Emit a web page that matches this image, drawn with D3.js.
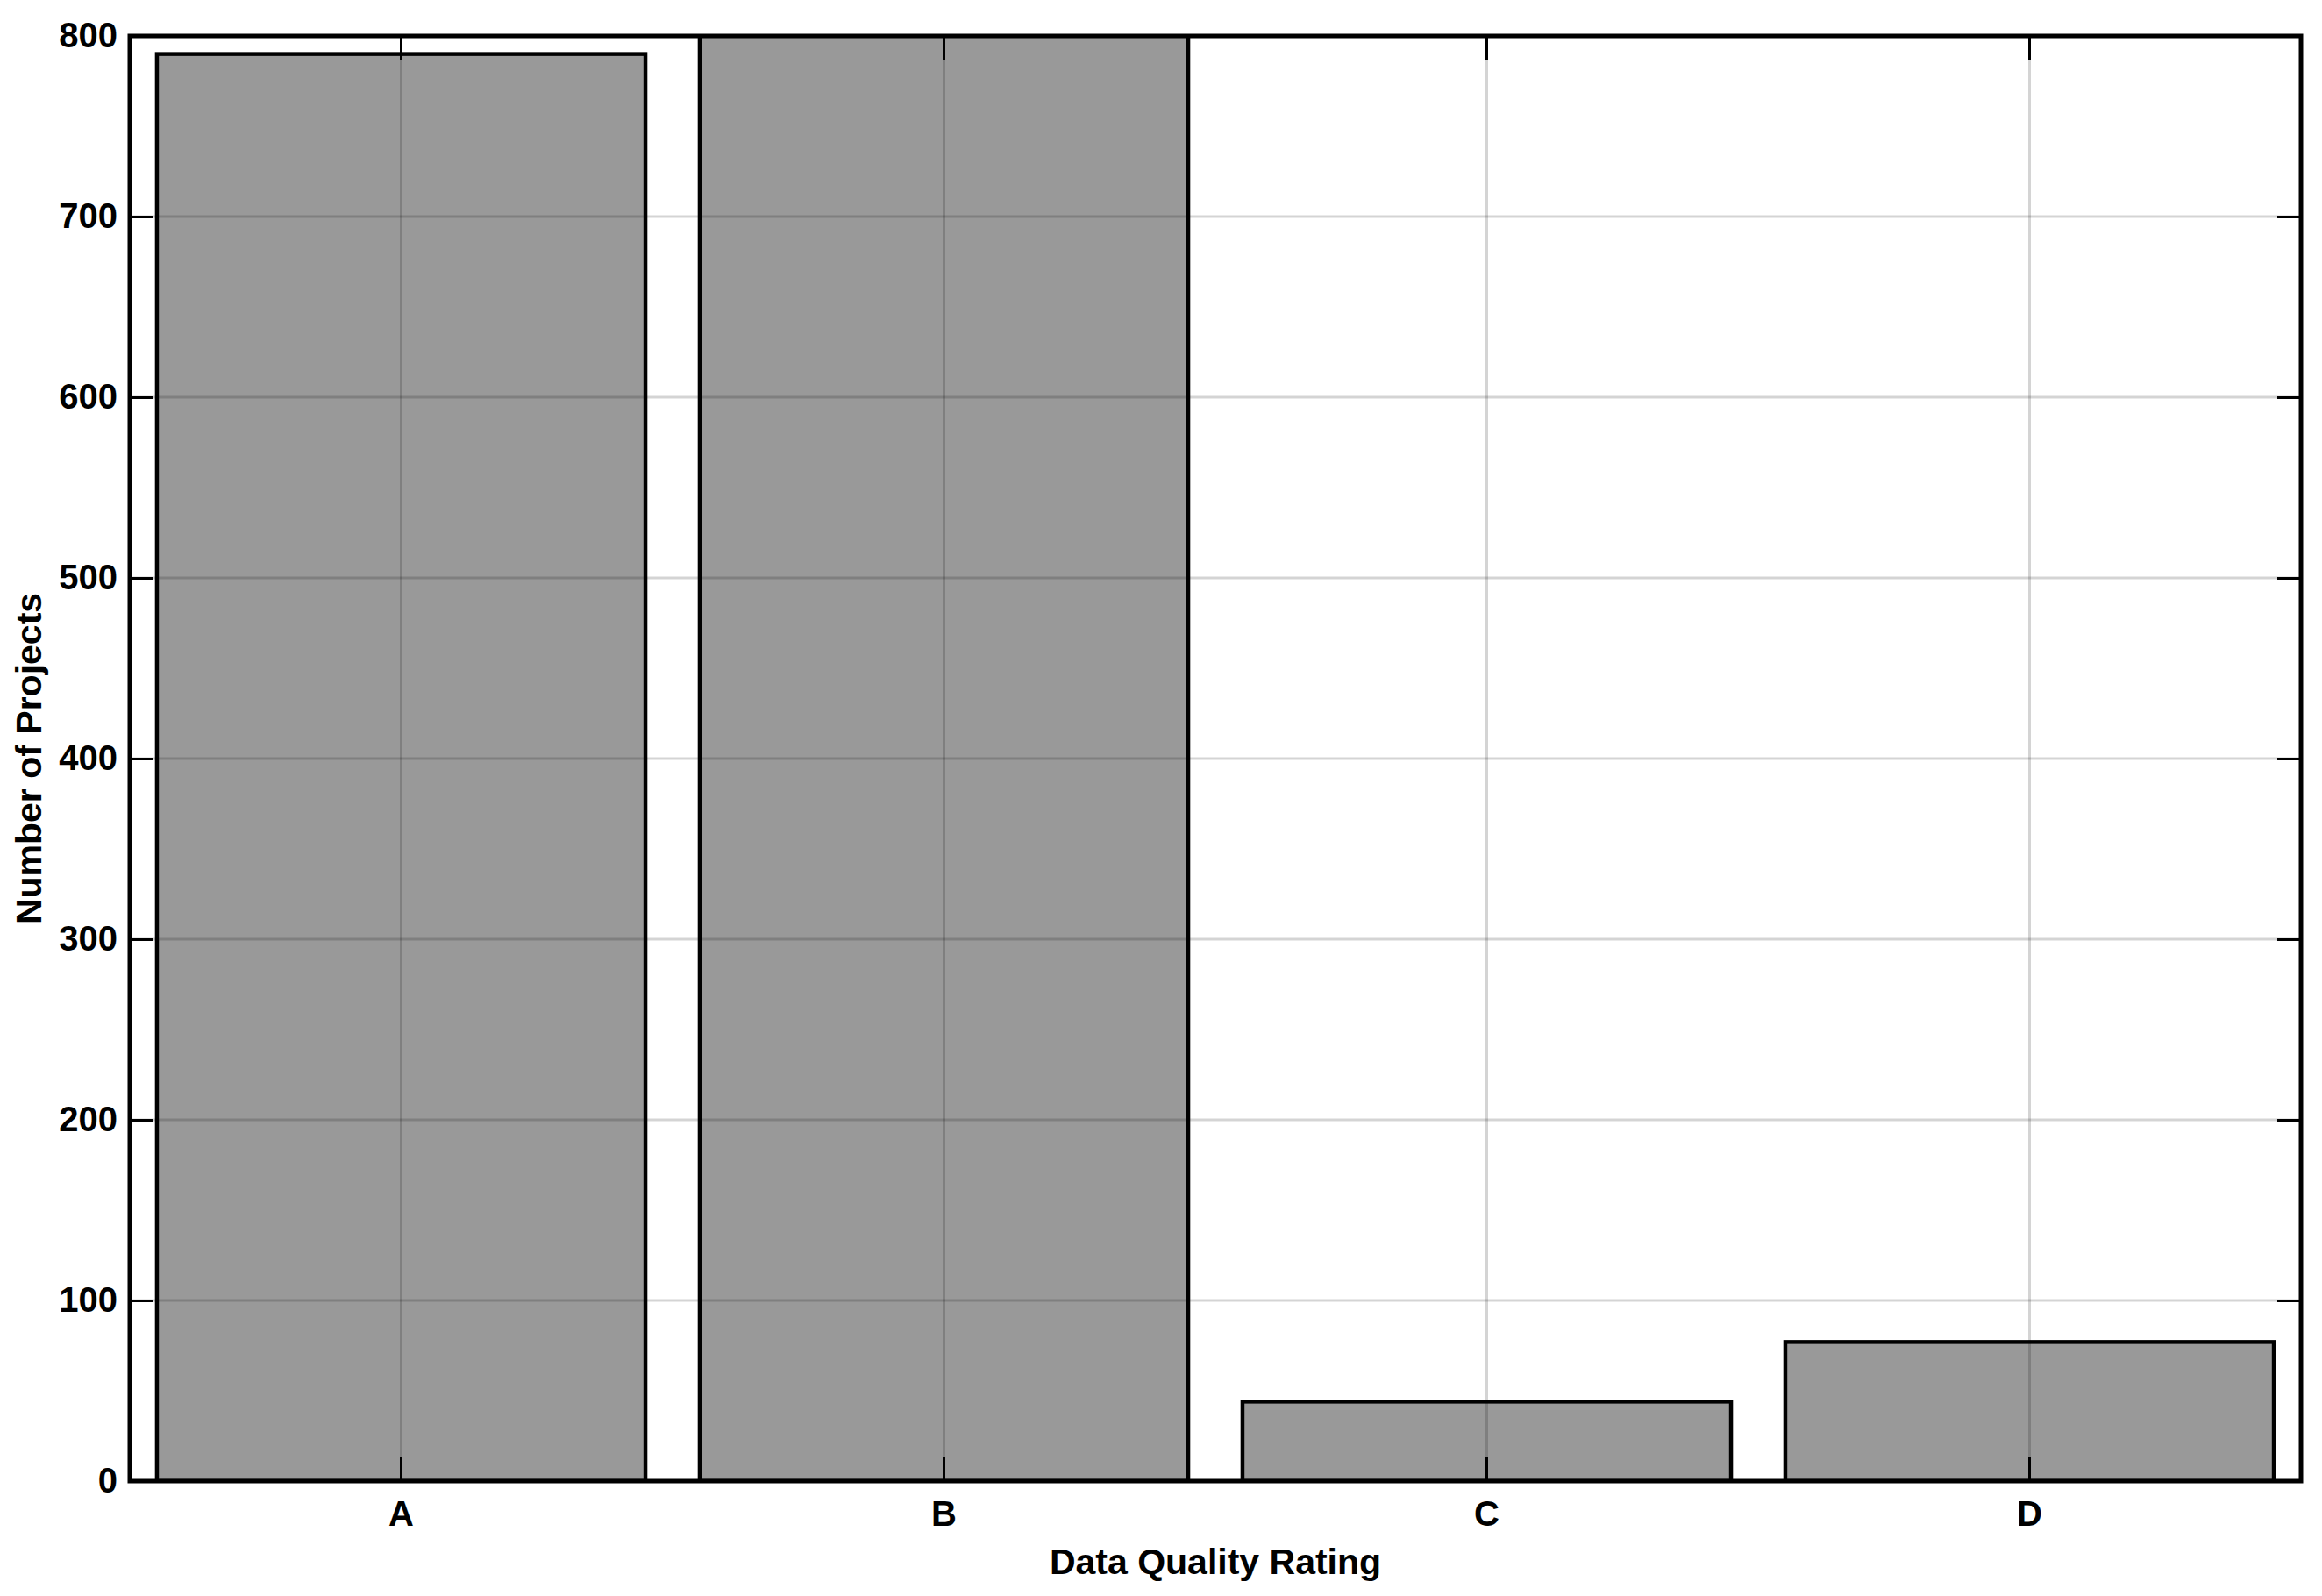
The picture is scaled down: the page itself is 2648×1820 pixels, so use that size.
<!DOCTYPE html>
<html>
<head>
<meta charset="utf-8">
<script src="https://cdn.jsdelivr.net/npm/d3@7"></script>
<style>
  html, body { margin: 0; padding: 0; background: #fff; }
  svg { display: block; }
  text { font-family: "Liberation Sans", Arial, Helvetica, sans-serif; font-weight: bold; fill: #000; }
</style>
</head>
<body>
<script>
const categories = ["A", "B", "C", "D"];
const projectCounts = [790, 850, 44, 77];
const yTicks = [0, 100, 200, 300, 400, 500, 600, 700, 800];
const xLabel = "Data Quality Rating";
const yLabel = "Number of Projects";

const W = 2648, H = 1820;
const mLeft = 148, mRight = 2624, mTop = 41, mBottom = 1689;

const svg = d3.select("body").append("svg").attr("width", W).attr("height", H);

const x = d3.scaleBand().domain(categories).range([mLeft, mRight]).paddingInner(0.1).paddingOuter(0.05);
const y = d3.scaleLinear().domain([0, 800]).range([mBottom, mTop]);

svg.append("defs").append("clipPath").attr("id", "plotclip")
  .append("rect").attr("x", mLeft).attr("y", mTop).attr("width", mRight - mLeft).attr("height", mBottom - mTop);

// bars
svg.append("g").attr("clip-path", "url(#plotclip)")
  .selectAll("rect").data(categories).join("rect")
  .attr("x", d => x(d))
  .attr("width", x.bandwidth())
  .attr("y", (d, i) => y(projectCounts[i]))
  .attr("height", (d, i) => y(0) - y(projectCounts[i]))
  .attr("fill", "#999999")
  .attr("stroke", "#000")
  .attr("stroke-width", 4.5);

// grid (drawn over bars, translucent)
const grid = svg.append("g");
grid.selectAll("line.h").data(yTicks.slice(1, -1)).join("line").attr("class", "h")
  .attr("x1", mLeft).attr("x2", mRight)
  .attr("y1", d => y(d)).attr("y2", d => y(d))
  .attr("stroke", "#000").attr("stroke-opacity", 0.17).attr("stroke-width", 3);
grid.selectAll("line.v").data(categories).join("line").attr("class", "v")
  .attr("y1", mTop).attr("y2", mBottom)
  .attr("x1", d => x(d) + x.bandwidth() / 2).attr("x2", d => x(d) + x.bandwidth() / 2)
  .attr("stroke", "#000").attr("stroke-opacity", 0.17).attr("stroke-width", 3);

const tickLen = 27;
function styleAxis(g) {
  g.select(".domain").remove();
  g.selectAll(".tick line").attr("stroke", "#000").attr("stroke-width", 3);
  g.selectAll(".tick text").style("font-size", "40px");
}

// left axis
svg.append("g").attr("transform", `translate(${mLeft},0)`)
  .call(d3.axisLeft(y).tickValues(yTicks).tickSizeInner(-tickLen).tickSizeOuter(0).tickPadding(14))
  .call(styleAxis);
// right axis ticks
svg.append("g").attr("transform", `translate(${mRight},0)`)
  .call(d3.axisRight(y).tickValues(yTicks).tickSizeInner(-tickLen).tickSizeOuter(0).tickFormat(""))
  .call(styleAxis);
// bottom axis
svg.append("g").attr("transform", `translate(0,${mBottom})`)
  .call(d3.axisBottom(x).tickSizeInner(-tickLen).tickSizeOuter(0).tickPadding(23))
  .call(styleAxis);
// top axis ticks
svg.append("g").attr("transform", `translate(0,${mTop})`)
  .call(d3.axisTop(x).tickSizeInner(-tickLen).tickSizeOuter(0).tickFormat(""))
  .call(styleAxis);

// frame
svg.append("rect").attr("x", mLeft).attr("y", mTop).attr("width", mRight - mLeft).attr("height", mBottom - mTop)
  .attr("fill", "none").attr("stroke", "#000").attr("stroke-width", 5);

// axis titles
svg.append("text").attr("x", (mLeft + mRight) / 2).attr("y", 1795)
  .attr("text-anchor", "middle").style("font-size", "41px").text(xLabel);
svg.append("text").attr("transform", `translate(47,${(mTop + mBottom) / 2}) rotate(-90)`)
  .attr("text-anchor", "middle").style("font-size", "41px").text(yLabel);
</script>
</body>
</html>
